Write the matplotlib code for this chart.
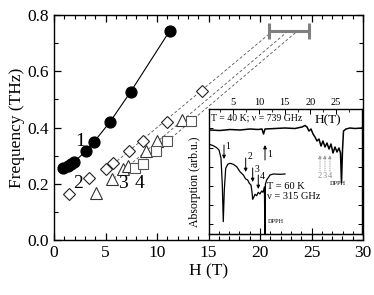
import numpy as np
import matplotlib
matplotlib.use("Agg")
import matplotlib.pyplot as plt
from matplotlib.ticker import MultipleLocator, FormatStrFormatter

plt.rcParams['font.family'] = ['Liberation Serif', 'DejaVu Serif']
plt.rcParams['mathtext.fontset'] = 'stix'

# resonance branches, H (T) vs frequency (THz)
h1 = [0.84, 1.32, 1.69, 1.93, 3.09, 3.91, 5.44, 7.44, 11.24]
f1 = [0.255, 0.262, 0.271, 0.277, 0.316, 0.350, 0.420, 0.527, 0.744]
h2 = [1.48, 3.41, 5.02, 5.75, 7.29, 8.65, 11.01, 14.37]
f2 = [0.164, 0.220, 0.252, 0.273, 0.318, 0.352, 0.421, 0.530]
h3 = [4.06, 5.65, 6.67, 7.15, 8.89, 10.02, 12.42]
f3 = [0.167, 0.218, 0.254, 0.264, 0.315, 0.351, 0.425]
h4 = [7.85, 8.60, 9.86, 10.99, 13.33]
f4 = [0.256, 0.271, 0.315, 0.351, 0.4225]

# linear extrapolations of branches 2-4
fit_h0 = [5.0, 5.8, 7.3]
fit_f0 = [0.247, 0.219, 0.236]
fit_h1 = [21.2, 22.7, 23.6]
fit_f1 = [0.742, 0.742, 0.742]

# high-field point with horizontal error bar
bar_h, bar_herr, bar_f = 22.85, 1.95, 0.742

branch_labels = ['1', '2', '3', '4']
label_h = [2.54, 2.35, 6.73, 8.34]
label_f = [0.351, 0.2025, 0.2025, 0.2025]

# inset spectra (H in T, absorption arb. units)
top_h = [0.3, 2.41, 4.36, 6.30, 8.25, 9.81, 10.58, 10.88, 11.17, 13.11, 15.06,
         17.00, 18.37, 18.95, 19.34, 19.73, 20.12, 20.51, 20.89, 21.28, 21.67,
         22.06, 22.45, 22.84, 23.23, 23.62, 24.01, 24.40, 24.79, 25.18, 25.56,
         25.86, 26.05, 26.25, 26.44, 26.93, 27.70, 28.68, 30.04]
top_a = [104, 103.5, 104.5, 104, 105, 104.5, 105, 100, 105, 105.5, 106,
         105.5, 107, 108.5, 107, 103, 105, 100, 97, 93, 95,
         88, 93, 87, 91, 85, 90, 81, 87, 82, 86,
         81, 51, 84, 103, 105, 106, 105.5, 106]
bot_h = [0.3, 1.11, 1.77, 2.22, 2.61, 2.86, 3.05, 3.25, 3.52, 3.91, 4.36,
         5.00, 5.66, 6.30, 6.95, 7.41, 7.80, 8.11, 8.44, 8.64, 8.77, 9.03,
         9.22, 9.55, 9.86, 10.19, 10.53, 10.78, 11.05, 11.15, 11.25, 11.50,
         12.14, 12.78, 14.09, 15.06]
bot_a = [89.8, 88.3, 86.3, 84, 75.7, 49, 12.3, 44, 65.7, 69.7, 70.7,
         69.7, 67.3, 62.3, 59, 55, 54, 50.7, 49, 42, 34.7, 37.3,
         39.7, 38.3, 41.7, 40, 43, 41.7, 47, 0, 50, 54,
         59, 60, 59.7, 60]

# line markers in inset
bot_arrow_h = [3.19, 7.41, 8.77, 9.86]
bot_arrow_a = [89, 76, 66, 59]
top_arrow_h = 11.17
gray_arrow_h = [21.87, 22.84, 23.81]

fig = plt.figure(figsize=(3.74, 2.95), dpi=100)
ax = fig.add_axes([0.1444, 0.1864, 0.8262, 0.7627])

ax.plot(h1, f1, '-', color='k', lw=0.8, zorder=3)
ax.plot(h1, f1, 'o', ms=7.8, mfc='k', mec='k', zorder=4)
for x0, y0, x1, y1 in zip(fit_h0, fit_f0, fit_h1, fit_f1):
    ax.plot([x0, x1], [y0, y1], '--', color='#555555', lw=0.6, dashes=(3.5, 2.5), zorder=2)
ax.plot(h2, f2, 'D', ms=6.5, mfc='white', mec='#222222', mew=0.8, zorder=5)
ax.plot(h3, f3, '^', ms=8, mfc='white', mec='#333333', mew=0.8, zorder=5)
ax.plot(h4, f4, 's', ms=7.5, mfc='white', mec='#555555', mew=0.8, zorder=5)
ax.errorbar([bar_h], [bar_f], xerr=[bar_herr], fmt='none', ecolor='#808080',
            elinewidth=2.2, capsize=6, capthick=2.2, zorder=3)
for t, x, y in zip(branch_labels, label_h, label_f):
    ax.text(x, y, t, fontsize=14, ha='center', va='center', zorder=6)

ax.set_xlim(0, 30)
ax.set_ylim(0, 0.8)
ax.xaxis.set_major_locator(MultipleLocator(5))
ax.xaxis.set_minor_locator(MultipleLocator(1))
ax.yaxis.set_major_locator(MultipleLocator(0.2))
ax.yaxis.set_minor_locator(MultipleLocator(0.1))
ax.yaxis.set_major_formatter(FormatStrFormatter('%.1f'))
ax.tick_params(which='both', direction='in', top=True, right=True, labelsize=12.5)
ax.tick_params(which='major', length=5, width=0.9)
ax.tick_params(which='minor', length=3, width=0.8)
ax.set_xlabel('H (T)', fontsize=12.5, labelpad=2)
ax.set_ylabel('Frequency (THz)', fontsize=12.5, labelpad=2)
for s in ax.spines.values():
    s.set_linewidth(1.0)

# inset
ins = fig.add_axes([0.5588, 0.2068, 0.4091, 0.4237])
ins.set_facecolor('white')
ins.plot(top_h, top_a, '-', color='k', lw=1.1)
ins.plot(bot_h, bot_a, '-', color='k', lw=0.9)
ins.set_xlim(0.27, 30.04)
ins.set_ylim(0, 125)

arrow_kw = dict(arrowstyle='-|>', lw=0.7, color='k', mutation_scale=5, shrinkA=0, shrinkB=0)
for i, (x, y) in enumerate(zip(bot_arrow_h, bot_arrow_a)):
    ins.annotate('', xy=(x, y - 14), xytext=(x, y), arrowprops=arrow_kw)
    ins.text(x + 0.8, y - 2 + (3 if i == 1 else 0), str(i + 1), fontsize=7, ha='center', va='center')
ins.annotate('', xy=(top_arrow_h, 89), xytext=(top_arrow_h, 74), arrowprops=arrow_kw)
ins.text(top_arrow_h + 0.9, 79.5, '1', fontsize=7, ha='center', va='center')
gray_kw = dict(arrow_kw, color='#999999', lw=0.6, linestyle=':')
for i, x in enumerate(gray_arrow_h):
    ins.annotate('', xy=(x, 79), xytext=(x, 63), arrowprops=gray_kw)
    ins.text(x, 57.5, str(i + 2), fontsize=6, color='#888888', ha='center', va='center')

ins.text(0.013, 0.926, 'T = 40 K; ν = 739 GHz', transform=ins.transAxes,
         fontsize=7, ha='left', va='center')
ins.text(0.78, 0.91, 'H(T)', transform=ins.transAxes, fontsize=9.5, ha='center', va='center')
ins.text(0.377, 0.378, 'T = 60 K', transform=ins.transAxes, fontsize=7.5, ha='left', va='center')
ins.text(0.377, 0.298, 'ν = 315 GHz', transform=ins.transAxes, fontsize=7.5, ha='left', va='center')
ins.text(0.385, 0.098, 'DPPH', transform=ins.transAxes, fontsize=4.5, ha='left', va='center')
ins.text(0.84, 0.40, 'DPPH', transform=ins.transAxes, fontsize=4.5, ha='center', va='center')

ins.xaxis.set_major_locator(MultipleLocator(5))
ins.xaxis.set_minor_locator(MultipleLocator(2.5))
ins.set_xticks([5, 10, 15, 20, 25])
ins.tick_params(axis='x', which='both', direction='in', top=True, bottom=False,
                labeltop=True, labelbottom=False, labelsize=7.5, pad=1.5)
ins.tick_params(axis='x', which='major', length=3.5, width=0.7)
ins.tick_params(axis='x', which='minor', length=2, width=0.6)
ins.set_yticks([10, 29, 48, 67, 86, 106])
ins.tick_params(axis='y', direction='in', left=True, right=True, labelleft=False,
                length=3, width=0.7)
ins.set_ylabel('Absorption (arb.u.)', fontsize=8.5)
ins.yaxis.set_label_coords(-0.055, 0.42)

# bottom ticks of inset follow the main field scale
to_main = lambda x: (207.6 - 53 + 5.14 * np.asarray(x)) / 10.35
to_ins = lambda h: (53 - 207.6 + 10.35 * np.asarray(h)) / 5.14
sec = ins.secondary_xaxis('bottom', functions=(to_main, to_ins))
sec.xaxis.set_major_locator(MultipleLocator(5))
sec.xaxis.set_minor_locator(MultipleLocator(1))
sec.tick_params(which='both', direction='in', labelbottom=False)
sec.tick_params(which='major', length=4, width=0.8)
sec.tick_params(which='minor', length=2.5, width=0.7)
for s in ins.spines.values():
    s.set_linewidth(1.0)

fig.savefig('out.png', dpi=100)
